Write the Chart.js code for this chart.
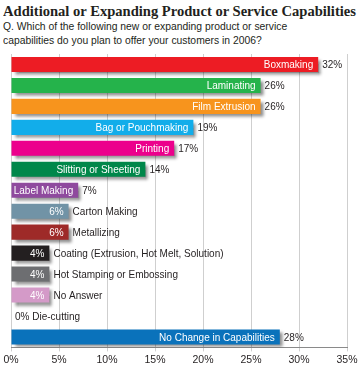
<!DOCTYPE html>
<html lang="en">
<head>
<meta charset="UTF-8">
<title>Additional or Expanding Product or Service Capabilities</title>
<script src="https://cdn.jsdelivr.net/npm/chart.js"></script>
<style>
  body { margin: 0; background: #fff; }
  #wrap { position: relative; width: 362px; height: 368px; overflow: hidden; }
  #title { position: absolute; left: 3px; top: 2px; white-space: nowrap;
    font: bold 15.5px "Liberation Serif", "DejaVu Serif", serif; color: #231f20;
    transform: scaleX(0.94); transform-origin: left top; }
  .sub { position: absolute; left: 3px; white-space: nowrap;
    font: 11.5px "Liberation Sans", Arial, sans-serif; color: #231f20;
    transform: scaleX(0.9); transform-origin: left top; }
  canvas { position: absolute; left: 0; top: 0; }
</style>
</head>
<body>
<div id="wrap">
  <div id="title">Additional or Expanding Product or Service Capabilities</div>
  <div class="sub" style="top:20px">Q. Which of the following new or expanding product or service</div>
  <div class="sub" style="top:34px">capabilities do you plan to offer your customers in 2006?</div>
  <canvas id="chart" width="362" height="368"></canvas>
</div>
<script>
  const categories = ['Boxmaking', 'Laminating', 'Film Extrusion', 'Bag or Pouchmaking', 'Printing',
    'Slitting or Sheeting', 'Label Making', 'Carton Making', 'Metallizing',
    'Coating (Extrusion, Hot Melt, Solution)', 'Hot Stamping or Embossing', 'No Answer',
    'Die-cutting', 'No Change in Capabilities'];
  const values = [32, 26, 26, 19, 17, 14, 7, 6, 6, 4, 4, 4, 0, 28];
  const barColors = ['#ed1c24', '#25b34b', '#f7941d', '#12adea', '#ec008c', '#00874a', '#8f4a9e',
    '#7193a6', '#9e2a28', '#231f20', '#6d6e71', '#d49ac8', '#ffffff', '#0a72bb'];
  const xTicks = [0, 5, 10, 15, 20, 25, 30, 35];

  const FONT = '11.5px "Liberation Sans", Arial, sans-serif';
  const SQUEEZE = 0.87;

  function drawText(ctx, text, x, y, align, color) {
    ctx.save();
    ctx.translate(x, y);
    ctx.scale(SQUEEZE, 1);
    ctx.font = FONT;
    ctx.fillStyle = color;
    ctx.textAlign = align;
    ctx.textBaseline = 'middle';
    ctx.fillText(text, 0, 0);
    ctx.restore();
  }

  // drop shadow under the bars, then the labels on top
  const barDecor = {
    id: 'barDecor',
    beforeDatasetsDraw(chart) {
      const ctx = chart.ctx;
      ctx.save();
      ctx.shadowColor = 'rgba(0,0,0,0.45)';
      ctx.shadowOffsetX = 3;
      ctx.shadowOffsetY = 3;
      ctx.shadowBlur = 3;
    },
    afterDatasetsDraw(chart) {
      const ctx = chart.ctx;
      ctx.restore();
      const bars = chart.getDatasetMeta(0).data;
      bars.forEach((bar, i) => {
        const v = values[i];
        const pct = v + '%';
        const y = bar.y + 0.5;
        if (v === 0) {
          drawText(ctx, pct + ' ' + categories[i], bar.base + 4, y, 'left', '#231f20');
        } else if (v >= 7) {
          drawText(ctx, categories[i], bar.x - 5, y, 'right', '#ffffff');
          drawText(ctx, pct, bar.x + 4, y, 'left', '#231f20');
        } else {
          drawText(ctx, pct, bar.x - 5, y, 'right', '#ffffff');
          drawText(ctx, categories[i], bar.x + 4, y, 'left', '#231f20');
        }
      });
    }
  };

  new Chart(document.getElementById('chart'), {
    type: 'bar',
    data: {
      labels: categories,
      datasets: [{
        data: values,
        backgroundColor: barColors,
        borderWidth: 0,
        barPercentage: 0.72,
        categoryPercentage: 1
      }]
    },
    options: {
      indexAxis: 'y',
      responsive: false,
      animation: false,
      devicePixelRatio: 1,
      layout: { padding: { left: 11, right: 15, top: 54, bottom: 0 } },
      scales: {
        x: {
          min: 0,
          max: 35,
          afterBuildTicks(axis) { axis.ticks = xTicks.map(v => ({ value: v })); },
          ticks: {
            callback: v => v + '%',
            color: '#231f20',
            font: { family: '"Liberation Sans", Arial, sans-serif', size: 10.5 },
            padding: 2,
            maxRotation: 0
          },
          grid: { color: '#cfcfcf', lineWidth: 1, tickLength: 4 },
          border: { color: '#8a8a8a' }
        },
        y: { display: false }
      },
      plugins: { legend: { display: false }, tooltip: { enabled: false } }
    },
    plugins: [barDecor]
  });
</script>
</body>
</html>
